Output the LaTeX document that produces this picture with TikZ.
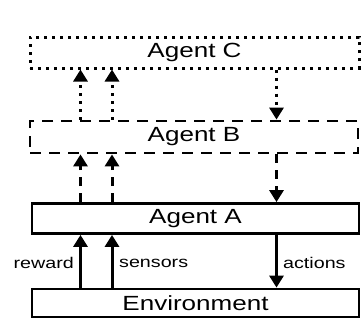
\documentclass[tikz,border=0pt]{standalone}
\usepackage{fontspec}
\setmainfont[FakeStretch=1.27]{Liberation Sans}
\usetikzlibrary{arrows.meta}
\begin{document}
\begin{tikzpicture}[x=1pt,y=-1pt,
  box/.style={draw=black,line width=2.8pt,inner sep=0pt,font=\fontsize{20.5}{24}\selectfont},
  solidbox/.style={box},
  dashbox/.style={box,dash pattern=on 11pt off 8pt},
  dotbox/.style={box,line width=3pt,dash pattern=on 3pt off 5pt},
  conn/.style={line width=3pt,-{Triangle[width=14pt,length=12pt]}},
  dashconn/.style={conn,dash pattern=on 9pt off 7pt},
  dotconn/.style={conn,dash pattern=on 3pt off 5pt},
  lab/.style={inner sep=0pt,font=\fontsize{15.5}{18}\selectfont}]
\useasboundingbox[fill=white] (0,0) rectangle (361,327);
\node[dotbox,minimum width=329pt,minimum height=31pt] (C) at (194.5,52.5) {Agent C};
\node[dashbox,minimum width=328pt,minimum height=32pt] (B) at (194,137) {Agent B};
\node[solidbox,minimum width=327pt,minimum height=30pt] (A) at (195.5,218.5) {Agent A};
\node[solidbox,minimum width=327pt,minimum height=28pt] (E) at (195.5,303) {Environment};
\coordinate (xa) at (80.5,0);
\coordinate (xb) at (112,0);
\coordinate (xc) at (276.5,0);
% Environment <-> Agent A
\draw[conn] (E.north -| xa) -- (A.south -| xa);
\draw[conn] (E.north -| xb) -- (A.south -| xb);
\draw[conn] (A.south -| xc) -- (E.north -| xc);
% Agent A <-> Agent B
\draw[dashconn] (A.north -| xa) -- (B.south -| xa);
\draw[dashconn] (A.north -| xb) -- (B.south -| xb);
\draw[dashconn] (B.south -| xc) -- (A.north -| xc);
% Agent B <-> Agent C
\draw[dotconn] (B.north -| xa) -- (C.south -| xa);
\draw[dotconn] (B.north -| xb) -- (C.south -| xb);
\draw[dotconn] (C.south -| xc) -- (B.north -| xc);
\node[lab,anchor=east] (r) at (74,263) {reward};
\node[lab,anchor=west] (s) at (119,263) {sensors};
\node[lab,anchor=west] (ac) at (283,263) {actions};
\end{tikzpicture}
\end{document}
